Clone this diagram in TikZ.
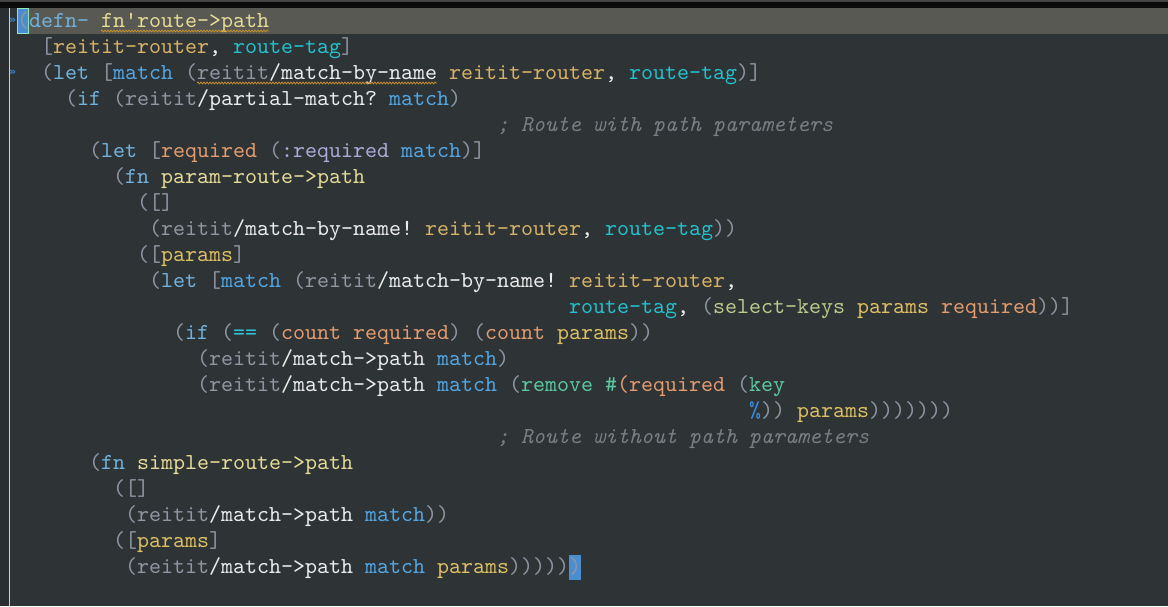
\documentclass[tikz,border=0pt]{standalone}
\usepackage{fontspec}
\setmonofont{lmmono10-regular.otf}[ItalicFont=lmmono10-italic.otf]
\newfontfamily\markfont{DejaVu Sans}
\usetikzlibrary{calc,decorations.pathmorphing}

\definecolor{editorbg}{HTML}{2E3336}
\definecolor{guttercol}{HTML}{2A2E31}
\definecolor{gutterline}{HTML}{CFCFCF}
\definecolor{topline}{HTML}{444444}
\definecolor{topbar}{HTML}{0B0B0B}
\definecolor{curline}{HTML}{585953}
\definecolor{cursorcol}{HTML}{4A8ED0}
\definecolor{cursorrim}{HTML}{90E6C0}
\definecolor{markcol}{HTML}{3A88D0}
\definecolor{wavecol}{HTML}{C8902C}
\definecolor{parencol}{HTML}{8E96A2}
\definecolor{kwcol}{HTML}{72B2DE}
\definecolor{fnmcol}{HTML}{E6DC96}
\definecolor{rargcol}{HTML}{D8B266}
\definecolor{rtagcol}{HTML}{22C2CE}
\definecolor{nscol}{HTML}{9296A2}
\definecolor{callcol}{HTML}{ECECEC}
\definecolor{loccol}{HTML}{52A8E6}
\definecolor{reqdcol}{HTML}{E49C6E}
\definecolor{kwdcol}{HTML}{AAACD8}
\definecolor{prmcol}{HTML}{DEC062}
\definecolor{eqcol}{HTML}{2EC6DE}
\definecolor{selkcol}{HTML}{BCC88C}
\definecolor{rmvcol}{HTML}{5CC8A0}
\definecolor{pctcol}{HTML}{3A8EE0}
\definecolor{cmtcol}{HTML}{7A7F83}

\newcommand{\codefont}{\fontsize{22.857}{26}\selectfont\ttfamily}
\newcommand{\pa}[1]{\textcolor{parencol}{#1}}
\newcommand{\kw}[1]{\textcolor{kwcol}{#1}}
\newcommand{\fnm}[1]{\textcolor{fnmcol}{#1}}
\newcommand{\rarg}[1]{\textcolor{rargcol}{#1}}
\newcommand{\rtag}[1]{\textcolor{rtagcol}{#1}}
\newcommand{\ns}[1]{\textcolor{nscol}{#1}}
\newcommand{\callw}[1]{\textcolor{callcol}{#1}}
\newcommand{\loc}[1]{\textcolor{loccol}{#1}}
\newcommand{\reqd}[1]{\textcolor{reqdcol}{#1}}
\newcommand{\kwd}[1]{\textcolor{kwdcol}{#1}}
\newcommand{\prm}[1]{\textcolor{prmcol}{#1}}
\newcommand{\eqop}[1]{\textcolor{eqcol}{#1}}
\newcommand{\selk}[1]{\textcolor{selkcol}{#1}}
\newcommand{\rmv}[1]{\textcolor{rmvcol}{#1}}
\newcommand{\pct}[1]{\textcolor{pctcol}{#1}}
\newcommand{\cmt}[1]{\textcolor{cmtcol}{\itshape #1}}

\tikzset{
  codeline/.style={anchor=base west,inner sep=0pt,font=\codefont},
  foldmark/.style={inner sep=0pt,text=markcol,font=\markfont\fontsize{11}{11}\selectfont\bfseries},
  squiggle/.style={wavecol,line width=0.8pt,
    decorate,decoration={snake,amplitude=0.9pt,segment length=3pt}}
}

\begin{document}
\begin{tikzpicture}[x=1pt,y=-1pt]
      \useasboundingbox (0,0) rectangle (1168,606);
      % editor frame
      \fill[editorbg] (0,0) rectangle (1168,606);
      \fill[guttercol] (0,8) rectangle (9,606);
      \fill[topline] (0,0) rectangle (1168,1.7);
      \fill[topbar] (0,1.7) rectangle (1168,8);
      \fill[curline] (29.3,8) rectangle (1168,33.5);
      \draw[gutterline,line width=1pt] (9.5,8) -- (9.5,606);

      % cursors
      \filldraw[fill=cursorcol,draw=cursorrim,line width=1pt]
           (17.8,8.8) rectangle (28.8,33);
      \fill[cursorcol] (569,554.5) rectangle (581,579.5);

      \node[foldmark] (foldtop) at (12.8,20.5) {»};
      \node[foldmark] (foldlet) at (12.8,72.5) {»};

      % code lines
      \node[codeline] (defnline) at (17,27.5)
           {\pa{(}\kw{defn-} \fnm{fn'route->path}};
      \node[codeline] (argline) at (41,53.5)
           {\pa{[}\rarg{reitit-router}\callw{,} \rtag{route-tag}\pa{]}};
      \node[codeline] (letmatch) at (41,79.5)
           {\pa{(}\kw{let} \pa{[}\loc{match} \pa{(}\ns{reitit}\callw{/match-by-name} \rarg{reitit-router}\callw{,} \rtag{route-tag}\pa{)]}};
      \node[codeline] (ifpartial) at (65,105.5)
           {\pa{(}\kw{if} \pa{(}\ns{reitit}\callw{/partial-match?} \loc{match}\pa{)}};
      \node[codeline] (cmtwith) at (497,131.5)
           {\cmt{; Route with path parameters}};
      \node[codeline] (letreq) at (89,157.5)
           {\pa{(}\kw{let} \pa{[}\reqd{required} \pa{(}\kwd{:required} \loc{match}\pa{)]}};
      \node[codeline] (fnparam) at (113,183.5)
           {\pa{(}\kw{fn} \fnm{param-route->path}};
      \node[codeline] (arityzero) at (137,209.5)
           {\pa{([]}};
      \node[codeline] (byname) at (149,235.5)
           {\pa{(}\ns{reitit}\callw{/match-by-name!} \rarg{reitit-router}\callw{,} \rtag{route-tag}\pa{))}};
      \node[codeline] (arityone) at (137,261.5)
           {\pa{([}\prm{params}\pa{]}};
      \node[codeline] (letmatchb) at (149,287.5)
           {\pa{(}\kw{let} \pa{[}\loc{match} \pa{(}\ns{reitit}\callw{/match-by-name!} \rarg{reitit-router}\callw{,}};
      \node[codeline] (selkeys) at (569,313.5)
           {\rtag{route-tag}\callw{,} \pa{(}\selk{select-keys} \prm{params} \reqd{required}\pa{))]}};
      \node[codeline] (ifcount) at (173,339.5)
           {\pa{(}\kw{if} \pa{(}\eqop{==} \pa{(}\reqd{count} \reqd{required}\pa{)} \pa{(}\reqd{count} \prm{params}\pa{))}};
      \node[codeline] (topath) at (197,365.5)
           {\pa{(}\ns{reitit}\callw{/match->path} \loc{match}\pa{)}};
      \node[codeline] (topathrm) at (197,391.5)
           {\pa{(}\ns{reitit}\callw{/match->path} \loc{match} \pa{(}\rmv{remove} \rmv{\#}\reqd{(required} \pa{(}\rmv{key}};
      \node[codeline] (pctline) at (749,417.5)
           {\pct{\%}\pa{))} \prm{params}\pa{)))))))}};
      \node[codeline] (cmtwithout) at (497,443.5)
           {\cmt{; Route without path parameters}};
      \node[codeline] (fnsimple) at (89,469.5)
           {\pa{(}\kw{fn} \fnm{simple-route->path}};
      \node[codeline] (simplezero) at (113,495.5)
           {\pa{([]}};
      \node[codeline] (simplepath) at (125,521.5)
           {\pa{(}\ns{reitit}\callw{/match->path} \loc{match}\pa{))}};
      \node[codeline] (simpleone) at (113,547.5)
           {\pa{([}\prm{params}\pa{]}};
      \node[codeline] (simplepathp) at (125,573.5)
           {\pa{(}\ns{reitit}\callw{/match->path} \loc{match} \prm{params}\pa{)))))}};
      \node[codeline] (lastparen) at (569,573.5) {\pa{)}};

      % spell marks
      \draw[squiggle] ($(defnline.base west)+(84,3.5)$) --
           ($(defnline.base west)+(252,3.5)$);
      \draw[squiggle] ($(letmatch.base west)+(156,3.5)$) --
           ($(letmatch.base west)+(396,3.5)$);
\end{tikzpicture}
\end{document}
